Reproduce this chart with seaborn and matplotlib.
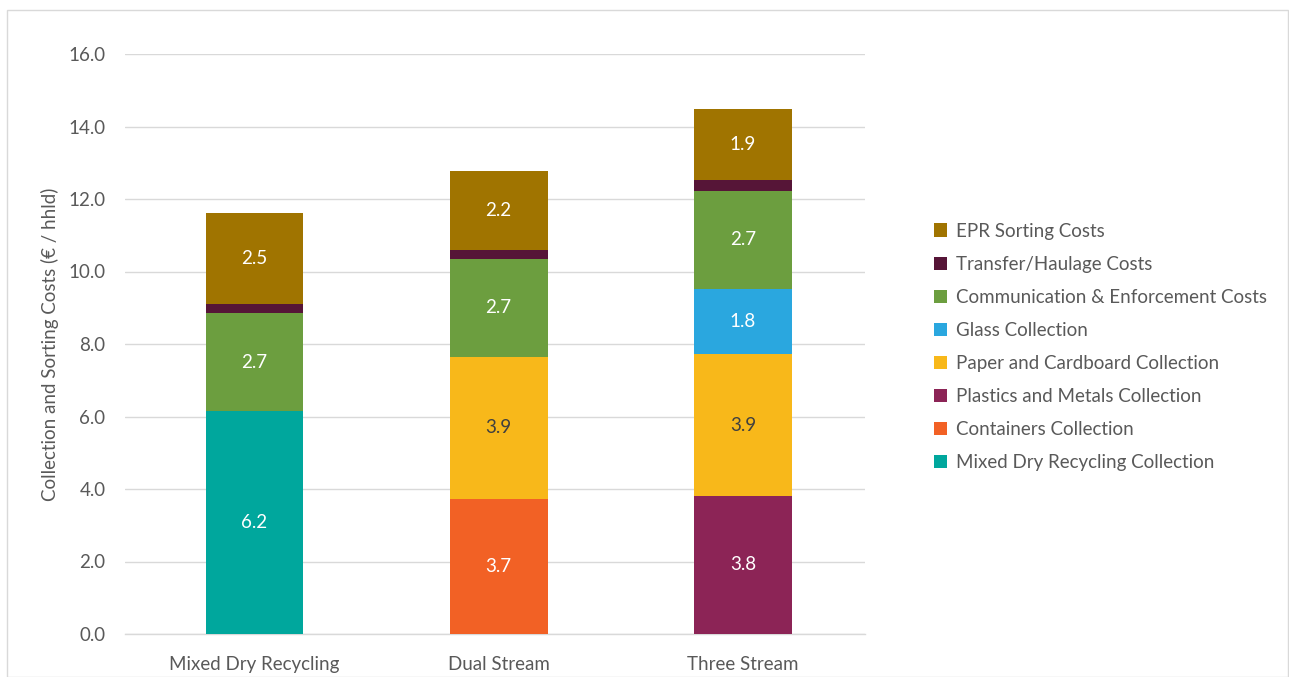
import matplotlib
matplotlib.use("Agg")
import matplotlib.pyplot as plt
import seaborn as sns
import numpy as np
from matplotlib.patches import Patch, Rectangle

categories = ["Mixed Dry Recycling", "Dual Stream", "Three Stream"]

mixed_dry = [6.15, 0.0, 0.0]
containers = [0.0, 3.72, 0.0]
plastics_metals = [0.0, 0.0, 3.81]
paper_cardboard = [0.0, 3.93, 3.91]
glass = [0.0, 0.0, 1.81]
communication = [2.70, 2.69, 2.69]
transfer = [0.25, 0.26, 0.30]
epr_sorting = [2.52, 2.18, 1.95]

series_names = ["Mixed Dry Recycling Collection", "Containers Collection",
                "Plastics and Metals Collection", "Paper and Cardboard Collection",
                "Glass Collection", "Communication & Enforcement Costs",
                "Transfer/Haulage Costs", "EPR Sorting Costs"]
series_values = [mixed_dry, containers, plastics_metals, paper_cardboard,
                 glass, communication, transfer, epr_sorting]
colors = ["#00A79D", "#F26125", "#8C2456", "#F8B81A",
          "#2AA7DF", "#6C9E3F", "#561537", "#A07400"]
label_colors = ["white", "white", "white", "#404040",
                "white", "white", None, "white"]

sns.set_theme(style="white")
plt.rcParams["font.family"] = ["Lato", "DejaVu Sans"]
text_color = "#595959"
fs = 13.5

fig = plt.figure(figsize=(12.89, 6.77), dpi=100)
ax = fig.add_axes([125 / 1289, (677 - 634) / 677, (865 - 125) / 1289, (634 - 54) / 677])

bottoms = np.zeros(len(categories))
for name, vals, col, lc in zip(series_names, series_values, colors, label_colors):
    vals = np.array(vals, dtype=float)
    sns.barplot(x=categories, y=vals, bottom=bottoms, color=col, width=0.4,
                ax=ax, saturation=1, linewidth=0, zorder=3)
    if lc is not None:
        for i, v in enumerate(vals):
            if v > 0:
                ax.text(i, bottoms[i] + v / 2, f"{v:.1f}", ha="center", va="center",
                        color=lc, fontsize=fs)
    bottoms = bottoms + vals

ax.set_ylim(0, 16)
ax.set_xlim(-0.53, 2.5)
ax.set_yticks(np.arange(0, 16.1, 2))
ax.set_yticklabels([f"{t:.1f}" for t in np.arange(0, 16.1, 2)])
ax.yaxis.grid(True, color="#d9d9d9", linewidth=1, zorder=0)
ax.set_axisbelow(True)
for s in ["top", "right", "left"]:
    ax.spines[s].set_visible(False)
ax.spines["bottom"].set_color("#d9d9d9")
ax.spines["bottom"].set_linewidth(1)
ax.tick_params(axis="both", length=0, labelsize=fs, labelcolor=text_color)
ax.tick_params(axis="y", pad=14)
ax.tick_params(axis="x", pad=16)
ax.set_ylabel("Collection and Sorting Costs (€ / hhld)", fontsize=fs, color=text_color, labelpad=7)
ax.set_xlabel("")

handles = [Patch(facecolor=c, edgecolor="none") for c in colors][::-1]
labels = series_names[::-1]
fig.legend(handles, labels, loc="center left", bbox_to_anchor=(917 / 1289, (677 - 347) / 677),
           frameon=False, fontsize=fs, labelcolor=text_color, handlelength=0.7,
           handleheight=0.7, handletextpad=0.5, labelspacing=0.86)

fig.patches.append(Rectangle((7 / 1289, 0), (1288 - 7) / 1289, (677 - 10) / 677,
                             transform=fig.transFigure, fill=False,
                             edgecolor="#d9d9d9", linewidth=1))

fig.savefig("out.png", dpi=100)
